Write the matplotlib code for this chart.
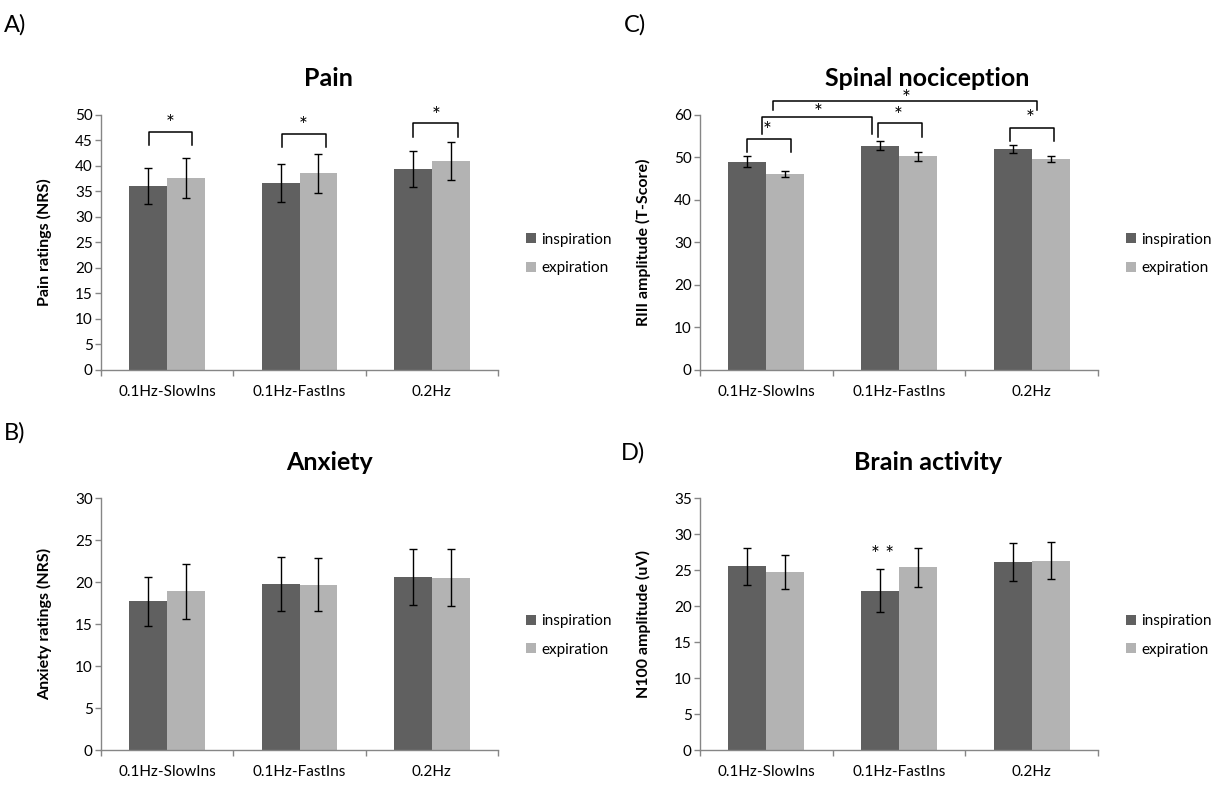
import numpy as np
import matplotlib
matplotlib.use("Agg")
import matplotlib.pyplot as plt
from matplotlib.ticker import FixedLocator

plt.rcParams['font.family'] = ['Lato', 'DejaVu Sans']

CATEGORIES = ["0.1Hz-SlowIns", "0.1Hz-FastIns", "0.2Hz"]
SERIES = ["inspiration", "expiration"]

# A) Pain ratings (NRS)
pain_insp = [36.1, 36.6, 39.4]
pain_insp_err = [3.5, 3.7, 3.5]
pain_exp = [37.7, 38.6, 41.0]
pain_exp_err = [3.9, 3.8, 3.7]

# B) Anxiety ratings (NRS)
anx_insp = [17.7, 19.8, 20.6]
anx_insp_err = [2.9, 3.2, 3.3]
anx_exp = [18.9, 19.7, 20.5]
anx_exp_err = [3.3, 3.2, 3.4]

# C) RIII amplitude (T-Score)
riii_insp = [49.0, 52.8, 52.0]
riii_insp_err = [1.3, 1.1, 0.9]
riii_exp = [46.1, 50.3, 49.7]
riii_exp_err = [0.8, 1.1, 0.7]

# D) N100 amplitude (uV)
n100_insp = [25.5, 22.1, 26.1]
n100_insp_err = [2.6, 3.0, 2.6]
n100_exp = [24.7, 25.4, 26.3]
n100_exp_err = [2.4, 2.7, 2.6]

# significance brackets: (x_left, x_right, y_top, y_leg_left, y_leg_right)
pain_brackets = [(-0.14, 0.19, 46.7, 44.1, 44.1),
                 (0.87, 1.20, 46.3, 43.7, 43.7),
                 (1.86, 2.20, 48.4, 45.7, 45.7)]
pain_stars = [(0.02, 49.4, "*"), (1.03, 49.0, "*"), (2.03, 51.0, "*")]

riii_brackets = [(0.05, 2.04, 63.3, 61.2, 61.2),
                 (-0.03, 0.80, 59.5, 55.5, 55.5),
                 (-0.146, 0.186, 54.4, 51.3, 51.3),
                 (0.84, 1.17, 58.1, 54.8, 54.8),
                 (1.84, 2.17, 56.9, 53.9, 53.9)]
riii_stars = [(1.05, 65.2, "*"), (0.39, 61.9, "*"), (0.005, 57.6, "*"),
              (0.99, 61.2, "*"), (1.99, 60.5, "*")]

n100_stars = [(0.875, 27.9, "* *")]

INSP_COLOR = "#606060"
EXP_COLOR = "#b3b3b3"
SPINE_COLOR = "#868686"
W = 1222
H = 786


def px_axes(left, top, right, bottom):
    return [left / W, 1 - bottom / H, (right - left) / W, (bottom - top) / H]


def draw_panel(fig, rect, insp, insp_err, exp, exp_err, ymax, ystep, ylabel,
               brackets=(), stars=()):
    ax = fig.add_axes(rect)
    x = np.arange(len(CATEGORIES))
    bw = 0.287
    err_kw = dict(ecolor="black", elinewidth=1.0, capsize=2.6, capthick=1.0)
    ax.bar(x - bw / 2, insp, bw, yerr=insp_err, color=INSP_COLOR,
           error_kw=err_kw, label=SERIES[0])
    ax.bar(x + bw / 2, exp, bw, yerr=exp_err, color=EXP_COLOR,
           error_kw=err_kw, label=SERIES[1])

    ax.set_xlim(-0.5, len(CATEGORIES) - 0.5)
    ax.set_ylim(0, ymax)
    ax.set_yticks(np.arange(0, ymax + 0.1, ystep))
    ax.set_xticks(x)
    ax.set_xticklabels(CATEGORIES, fontsize=11)
    ax.xaxis.set_minor_locator(FixedLocator(np.arange(-0.5, len(CATEGORIES), 1.0)))
    ax.tick_params(axis="x", which="major", length=0, pad=11)
    ax.tick_params(axis="x", which="minor", length=4, width=1,
                   color=SPINE_COLOR, direction="out")
    ax.tick_params(axis="y", length=4, width=1, color=SPINE_COLOR,
                   direction="out", labelsize=11, pad=2)
    for side in ("top", "right"):
        ax.spines[side].set_visible(False)
    for side in ("left", "bottom"):
        ax.spines[side].set_color(SPINE_COLOR)
        ax.spines[side].set_linewidth(1)
    ax.set_ylabel(ylabel, fontsize=11.5, fontweight="bold")
    ax.yaxis.set_label_coords(-0.123, 0.5)

    for x0, x1, yt, yl0, yl1 in brackets:
        ax.plot([x0, x0, x1, x1], [yl0, yt, yt, yl1], color="black",
                linewidth=1.1, clip_on=False, solid_joinstyle="round")
    for sx, sy, s in stars:
        ax.annotate(s, (sx, sy), xytext=(0, -4.5), textcoords="offset points",
                    ha="center", va="center", fontsize=15, annotation_clip=False)

    ax.legend(loc="center left", bbox_to_anchor=(1.07, 0.455), frameon=False,
              fontsize=11, handlelength=0.65, handleheight=0.65,
              handletextpad=0.35, labelspacing=0.95, borderpad=0,
              borderaxespad=0)
    return ax


fig = plt.figure(figsize=(W / 100, H / 100), dpi=100)

draw_panel(fig, px_axes(101, 115, 498, 370), pain_insp, pain_insp_err,
           pain_exp, pain_exp_err, 50, 5, "Pain ratings (NRS)",
           pain_brackets, pain_stars)
draw_panel(fig, px_axes(700, 115, 1098, 370), riii_insp, riii_insp_err,
           riii_exp, riii_exp_err, 60, 10, "RIII amplitude (T-Score)",
           riii_brackets, riii_stars)
draw_panel(fig, px_axes(101, 498, 498, 750), anx_insp, anx_insp_err,
           anx_exp, anx_exp_err, 30, 5, "Anxiety ratings (NRS)")
draw_panel(fig, px_axes(700, 498, 1098, 750), n100_insp, n100_insp_err,
           n100_exp, n100_exp_err, 35, 5, "N100 amplitude (uV)",
           stars=n100_stars)

title_kw = dict(fontsize=18, fontweight="bold", ha="center", va="center")
fig.text(328 / W, 1 - 79 / H, "Pain", **title_kw)
fig.text(927 / W, 1 - 79 / H, "Spinal nociception", **title_kw)
fig.text(330 / W, 1 - 462 / H, "Anxiety", **title_kw)
fig.text(928 / W, 1 - 462 / H, "Brain activity", **title_kw)

letter_kw = dict(fontsize=17, ha="left", va="center")
fig.text(4 / W, 1 - 25 / H, "A)", **letter_kw)
fig.text(624 / W, 1 - 25 / H, "C)", **letter_kw)
fig.text(4 / W, 1 - 433 / H, "B)", **letter_kw)
fig.text(621 / W, 1 - 453 / H, "D)", **letter_kw)

fig.savefig("out.png", dpi=100)
